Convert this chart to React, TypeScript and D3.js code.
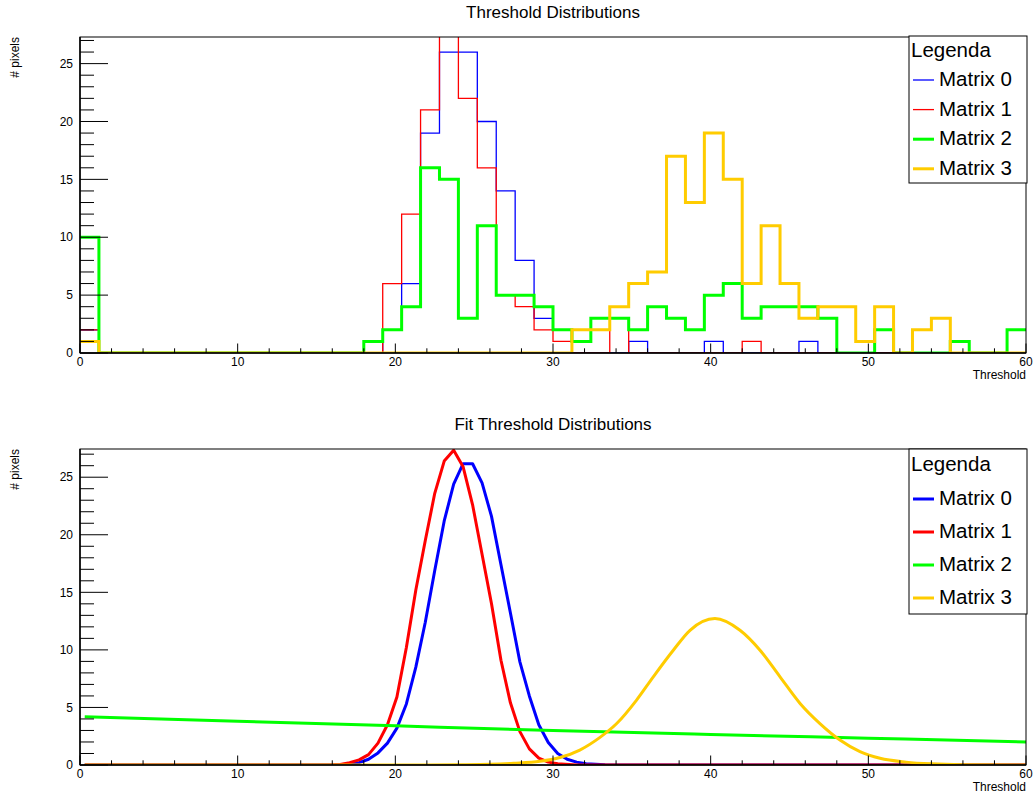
import React from "react";
import * as d3 from "d3";

// histogram binning (ROOT TH1: 50 bins from 0 to 60)
const X_MIN = 0;
const X_MAX = 60;
const N_BINS = 50;

const SERIES = ["Matrix 0", "Matrix 1", "Matrix 2", "Matrix 3"];
const COLORS = ["#0000ff", "#ff0000", "#00ff00", "#ffcc00"];
const HIST_WIDTHS = [1.3, 1.3, 3, 3];

// bin contents
const matrix0Counts = [2, 0, 0, 0, 0, 0, 0, 0, 0, 0, 0, 0, 0, 0, 0, 0, 2, 6, 19, 26, 26, 20, 14, 8, 3, 2, 0, 0, 0, 1, 0, 0, 0, 1, 0, 0, 0, 0, 1, 0, 0, 0, 0, 0, 0, 0, 0, 0, 0, 0];
const matrix1Counts = [2, 0, 0, 0, 0, 0, 0, 0, 0, 0, 0, 0, 0, 0, 0, 0, 6, 12, 21, 29, 22, 16, 5, 4, 2, 1, 0, 0, 3, 0, 0, 0, 0, 0, 0, 1, 0, 0, 0, 0, 0, 0, 0, 0, 0, 0, 0, 0, 0, 0];
const matrix2Counts = [10, 0, 0, 0, 0, 0, 0, 0, 0, 0, 0, 0, 0, 0, 0, 1, 2, 4, 16, 15, 3, 11, 5, 5, 4, 2, 1, 3, 3, 2, 4, 3, 2, 5, 6, 3, 4, 4, 4, 3, 0, 0, 2, 0, 0, 0, 1, 0, 0, 2];
const matrix3Counts = [1, 0, 0, 0, 0, 0, 0, 0, 0, 0, 0, 0, 0, 0, 0, 0, 0, 0, 0, 0, 0, 0, 0, 0, 0, 0, 2, 2, 4, 6, 7, 17, 13, 19, 15, 6, 11, 6, 3, 4, 4, 1, 4, 0, 2, 3, 0, 0, 0, 0];

// fit curves: [threshold, pixels]
const matrix0Fit = [[0.3, 0], [16.5, 0], [17.1, 0.08], [17.7, 0.2], [18.3, 0.5], [18.9, 1.05], [19.5, 1.9], [20.1, 3.2], [20.7, 5.3], [21.3, 8.5], [21.9, 12.4], [22.5, 16.9], [23.1, 21.2], [23.7, 24.4], [24.3, 26.17], [24.9, 26.17], [25.5, 24.5], [26.1, 21.6], [26.7, 17.4], [27.3, 13.2], [27.9, 8.96], [28.5, 6.0], [29.1, 3.5], [29.7, 1.95], [30.3, 1.0], [30.9, 0.5], [31.5, 0.25], [32.1, 0.1], [33.3, 0.02], [34.5, 0], [60, 0]];
const matrix1Fit = [[0.3, 0], [15.9, 0], [16.5, 0.05], [17.1, 0.2], [17.7, 0.45], [18.3, 0.9], [18.9, 1.9], [19.5, 3.5], [20.1, 5.9], [20.7, 10.2], [21.3, 15.2], [21.9, 19.5], [22.5, 23.6], [23.1, 26.4], [23.7, 27.35], [24.3, 25.9], [24.9, 22.6], [25.5, 18.3], [26.1, 14.0], [26.7, 9.1], [27.3, 5.4], [27.9, 2.9], [28.5, 1.4], [29.1, 0.6], [29.7, 0.25], [30.3, 0.1], [31.5, 0], [60, 0]];
const matrix2Fit = [[0.3, 4.2], [10, 3.8], [20, 3.4], [30, 3.0], [40, 2.65], [50, 2.33], [60, 2.0]];
const matrix3Fit = [[0.3, 0], [22, 0], [24, 0.02], [26, 0.06], [27.5, 0.15], [29.17, 0.32], [30.44, 0.65], [31.7, 1.3], [32.98, 2.4], [34.04, 3.6], [35.3, 5.64], [36.36, 7.66], [37.63, 9.97], [38.69, 11.7], [40.27, 12.72], [41.86, 11.7], [43.13, 9.97], [44.4, 7.66], [45.67, 5.35], [46.93, 3.6], [48.2, 2.17], [49.47, 1.16], [50.74, 0.58], [52.4, 0.25], [54, 0.1], [56, 0.03], [60, 0]];

const X_TICKS = [0, 10, 20, 30, 40, 50, 60];
const Y_TICKS = [0, 5, 10, 15, 20, 25];
const TOP_Y_MAX = 27.3;
const BOTTOM_Y_MAX = 27.45;

const FONT = "'Liberation Sans', Arial, Helvetica, sans-serif";
const W = 1033;
const H = 796;
const FRAME_LEFT = 80;
const FRAME_RIGHT = 1026;
const FRAME_H = 316;

const x = d3.scaleLinear().domain([X_MIN, X_MAX]).range([FRAME_LEFT, FRAME_RIGHT]);
const binEdges = d3.range(N_BINS + 1).map((i) => X_MIN + ((X_MAX - X_MIN) * i) / N_BINS);

const Frame = ({ top, yMax, title, clipId, children, legend }) => {
  const bottom = top + FRAME_H;
  const y = d3.scaleLinear().domain([0, yMax]).range([bottom, top]);
  const xMinor = d3.range(X_MIN, X_MAX + 0.001, 2);
  const yMinor = d3.range(0, Math.floor(yMax) + 0.001, 1);
  return (
    <g>
      <text x={553} y={top - 19} textAnchor="middle" fontSize={17} fontFamily={FONT} fill="#000">
        {title}
      </text>
      <defs>
        <clipPath id={clipId}>
          <rect x={FRAME_LEFT} y={top} width={FRAME_RIGHT - FRAME_LEFT} height={FRAME_H} />
        </clipPath>
      </defs>
      <g clipPath={`url(#${clipId})`}>{children(y)}</g>
      <rect x={FRAME_LEFT} y={top} width={FRAME_RIGHT - FRAME_LEFT} height={FRAME_H} fill="none" stroke="#000" strokeWidth={1} />
      <line x1={FRAME_LEFT} x2={FRAME_LEFT} y1={top} y2={bottom} stroke="#000" strokeWidth={1.5} />
      <line x1={FRAME_LEFT} x2={FRAME_RIGHT} y1={bottom} y2={bottom} stroke="#000" strokeWidth={1.5} />
      {xMinor.map((t) => {
        const major = t % 10 === 0;
        return <line key={"xt" + t} x1={x(t)} x2={x(t)} y1={bottom} y2={bottom - (major ? 9.5 : 4.7)} stroke="#000" strokeWidth={1} />;
      })}
      {yMinor.map((t) => {
        const major = t % 5 === 0;
        return <line key={"yt" + t} x1={FRAME_LEFT} x2={FRAME_LEFT + (major ? 28 : 14)} y1={y(t)} y2={y(t)} stroke="#000" strokeWidth={1} />;
      })}
      {X_TICKS.map((t) => (
        <text key={"xl" + t} x={x(t)} y={bottom + 12.5} textAnchor="middle" fontSize={12} fontFamily={FONT} fill="#000">
          {t}
        </text>
      ))}
      {Y_TICKS.map((t) => (
        <text key={"yl" + t} x={73} y={y(t)} dy="0.35em" textAnchor="end" fontSize={12} fontFamily={FONT} fill="#000">
          {t}
        </text>
      ))}
      <text x={FRAME_RIGHT} y={bottom + 26} textAnchor="end" fontSize={12} fontFamily={FONT} fill="#000">
        Threshold
      </text>
      <text transform={`translate(19,${top}) rotate(-90)`} textAnchor="end" fontSize={12} fontFamily={FONT} fill="#000">
        # pixels
      </text>
      {legend}
    </g>
  );
};

const Legend = ({ top, bottom, headerDy, firstDy, step, widths }) => (
  <g fontFamily={FONT}>
    <rect x={909} y={top} width={FRAME_RIGHT + 1 - 909} height={bottom - top} fill="#fff" stroke="#000" strokeWidth={1} />
    <text x={911} y={top + headerDy} fontSize={20.5} fill="#000">
      Legenda
    </text>
    {SERIES.map((s, i) => {
      const base = top + firstDy + i * step;
      return (
        <g key={s}>
          <line x1={913} x2={934} y1={base - 6} y2={base - 6} stroke={COLORS[i]} strokeWidth={widths[i]} />
          <text x={939} y={base} fontSize={20.5} fill="#000">
            {s}
          </text>
        </g>
      );
    })}
  </g>
);

export default function App() {
  const counts = [matrix0Counts, matrix1Counts, matrix2Counts, matrix3Counts];
  const fits = [matrix0Fit, matrix1Fit, matrix2Fit, matrix3Fit];

  return (
    <svg width={W} height={H} style={{ position: "absolute", left: 0, top: 0, background: "#fff" }}>
      <rect width={W} height={H} fill="#fff" />
      <Frame
        top={37}
        yMax={TOP_Y_MAX}
        title="Threshold Distributions"
        clipId="clipTop"
        legend={<Legend top={36} bottom={183} headerDy={21} firstDy={50} step={29.6} widths={HIST_WIDTHS} />}
      >
        {(y) =>
          counts.map((c, i) => {
            const pts = c.map((v, k) => [binEdges[k], v]);
            pts.push([binEdges[N_BINS], c[N_BINS - 1]]);
            const line = d3
              .line()
              .x((d) => x(d[0]))
              .y((d) => y(d[1]))
              .curve(d3.curveStepAfter);
            return <path key={i} d={line(pts)} fill="none" stroke={COLORS[i]} strokeWidth={HIST_WIDTHS[i]} />;
          })
        }
      </Frame>
      <Frame
        top={449}
        yMax={BOTTOM_Y_MAX}
        title="Fit Threshold Distributions"
        clipId="clipBottom"
        legend={<Legend top={449} bottom={614} headerDy={22} firstDy={56} step={33} widths={[3, 3, 3, 3]} />}
      >
        {(y) =>
          fits.map((f, i) => {
            const line = d3
              .line()
              .x((d) => x(d[0]))
              .y((d) => y(d[1]))
              .curve(i < 2 ? d3.curveLinear : d3.curveMonotoneX);
            return <path key={i} d={line(f)} fill="none" stroke={COLORS[i]} strokeWidth={3} strokeLinejoin="round" />;
          })
        }
      </Frame>
    </svg>
  );
}
